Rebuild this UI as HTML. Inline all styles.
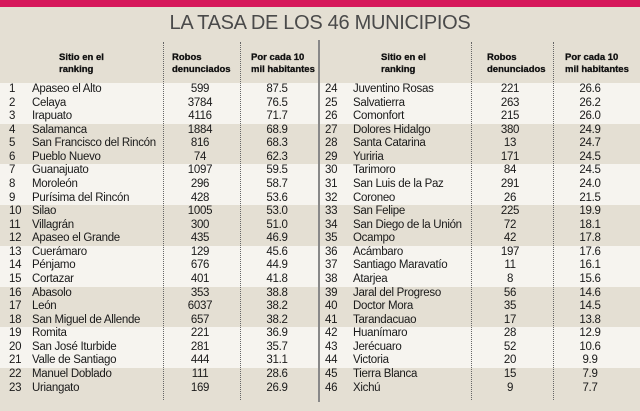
<!DOCTYPE html>
<html><head><meta charset="utf-8"><style>
body{margin:0;width:640px;height:411px;overflow:hidden;background:#e4dfd3;font-family:"Liberation Sans Narrow","Liberation Sans",sans-serif;position:relative;color:#1a1a1a}
.bar{position:absolute;left:0;top:0;width:640px;height:7px;background:#d6185b}
.title{position:absolute;left:0;width:640px;top:12px;text-align:center;font-family:"Liberation Sans",sans-serif;font-size:20px;color:#4a4a4a;letter-spacing:-0.3px}
.hd{position:absolute;font-size:9.5px;font-weight:bold;line-height:12px;color:#111;-webkit-text-stroke:0.3px #111}
.band{position:absolute;height:40.7px;background:#f6f4ef}
.r{position:absolute;font-size:11.5px;line-height:13.57px;height:13.57px;white-space:nowrap;letter-spacing:-0.3px}
.c{text-align:center;width:60px}
.dot{position:absolute;top:42px;height:358px;border-left:1px dotted #666}
.sol{position:absolute;left:318px;top:40px;height:362px;border-left:2px solid #888}
</style></head><body>
<div class="bar"></div>
<div class="title">LA TASA DE LOS 46 MUNICIPIOS</div>
<div class="hd" style="left:59px;top:52px">Sitio en el<br>ranking</div>
<div class="hd" style="left:172px;top:52px">Robos<br>denunciados</div>
<div class="hd" style="left:251px;top:52px">Por cada 10<br>mil habitantes</div>
<div class="hd" style="left:381px;top:52px">Sitio en el<br>ranking</div>
<div class="hd" style="left:487px;top:52px">Robos<br>denunciados</div>
<div class="hd" style="left:565px;top:52px">Por cada 10<br>mil habitantes</div>
<div id="rows"></div>
<div class="dot" style="left:163px"></div>
<div class="dot" style="left:240px"></div>
<div class="dot" style="left:471px"></div>
<div class="dot" style="left:553px"></div>
<div class="sol"></div>
<script>
var L=[["Apaseo el Alto",599,"87.5"],["Celaya",3784,"76.5"],["Irapuato",4116,"71.7"],["Salamanca",1884,"68.9"],["San Francisco del Rincón",816,"68.3"],["Pueblo Nuevo",74,"62.3"],["Guanajuato",1097,"59.5"],["Moroleón",296,"58.7"],["Purísima del Rincón",428,"53.6"],["Silao",1005,"53.0"],["Villagrán",300,"51.0"],["Apaseo el Grande",435,"46.9"],["Cuerámaro",129,"45.6"],["Pénjamo",676,"44.9"],["Cortazar",401,"41.8"],["Abasolo",353,"38.8"],["León",6037,"38.2"],["San Miguel de Allende",657,"38.2"],["Romita",221,"36.9"],["San José Iturbide",281,"35.7"],["Valle de Santiago",444,"31.1"],["Manuel Doblado",111,"28.6"],["Uriangato",169,"26.9"]];
var R=[["Juventino Rosas",221,"26.6"],["Salvatierra",263,"26.2"],["Comonfort",215,"26.0"],["Dolores Hidalgo",380,"24.9"],["Santa Catarina",13,"24.7"],["Yuriria",171,"24.5"],["Tarimoro",84,"24.5"],["San Luis de la Paz",291,"24.0"],["Coroneo",26,"21.5"],["San Felipe",225,"19.9"],["San Diego de la Unión",72,"18.1"],["Ocampo",42,"17.8"],["Acámbaro",197,"17.6"],["Santiago Maravatío",11,"16.1"],["Atarjea",8,"15.6"],["Jaral del Progreso",56,"14.6"],["Doctor Mora",35,"14.5"],["Tarandacuao",17,"13.8"],["Huanímaro",28,"12.9"],["Jerécuaro",52,"10.6"],["Victoria",20,"9.9"],["Tierra Blanca",15,"7.9"],["Xichú",9,"7.7"]];
var h="",y0=83,rh=13.57;
for(var g=0;g<8;g+=2){h+='<div class="band" style="left:0;width:640px;top:'+(y0+g*3*rh)+'px"></div>';}
function side(a,off,nx,px,rx,qx){for(var i=0;i<a.length;i++){var y=y0+i*rh;
h+='<div class="r" style="left:'+nx+'px;top:'+y+'px">'+(i+off)+'</div>';
h+='<div class="r" style="left:'+px+'px;top:'+y+'px">'+a[i][0]+'</div>';
h+='<div class="r c" style="left:'+rx+'px;top:'+y+'px">'+a[i][1]+'</div>';
h+='<div class="r c" style="left:'+qx+'px;top:'+y+'px">'+a[i][2]+'</div>';}}
side(L,1,9,32,170,247);
side(R,24,325,353,480,560);
document.getElementById("rows").innerHTML=h;
</script>
</body></html>
